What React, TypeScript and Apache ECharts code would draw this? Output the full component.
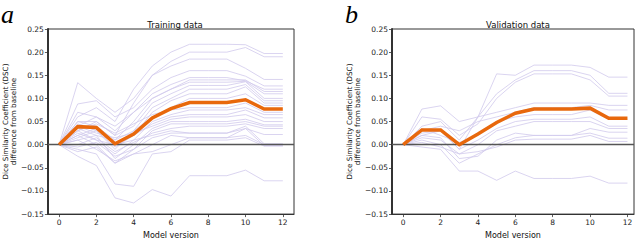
import React, { useEffect, useRef } from "react";
import * as echarts from "echarts";

const versions = [0, 1, 2, 3, 4, 5, 6, 7, 8, 9, 10, 11, 12];
const xTicks = [0, 2, 4, 6, 8, 10, 12];
const yTicks = [-0.15, -0.1, -0.05, 0, 0.05, 0.1, 0.15, 0.2, 0.25];

const trainingMean = [0, 0.039, 0.037, 0.002, 0.023, 0.058, 0.078, 0.091, 0.091, 0.091, 0.097, 0.077, 0.077];
const trainingRuns = [
  [0, 0.06, 0.08, 0.05, 0.12, 0.17, 0.2, 0.217, 0.217, 0.217, 0.216, 0.197, 0.197],
  [0, 0.05, 0.05, 0.02, 0.09, 0.15, 0.18, 0.2, 0.2, 0.2, 0.21, 0.19, 0.19],
  [0, 0.134, 0.1, 0.07, 0.1, 0.15, 0.17, 0.185, 0.185, 0.185, 0.165, 0.141, 0.141],
  [0, 0.088, 0.095, 0.06, 0.08, 0.12, 0.145, 0.16, 0.16, 0.16, 0.148, 0.127, 0.127],
  [0, 0.07, 0.06, 0.03, 0.07, 0.11, 0.13, 0.145, 0.145, 0.145, 0.138, 0.12, 0.12],
  [0, 0.05, 0.04, 0.01, 0.05, 0.1, 0.12, 0.14, 0.14, 0.14, 0.14, 0.115, 0.115],
  [0, 0.04, 0.06, 0.04, 0.07, 0.1, 0.12, 0.135, 0.135, 0.135, 0.137, 0.11, 0.11],
  [0, 0.03, 0.05, 0.02, 0.04, 0.09, 0.11, 0.128, 0.128, 0.128, 0.136, 0.1, 0.1],
  [0, 0.045, 0.03, -0.01, 0.03, 0.08, 0.1, 0.12, 0.12, 0.12, 0.13, 0.095, 0.095],
  [0, 0.02, 0.035, 0.0, 0.02, 0.07, 0.095, 0.11, 0.11, 0.11, 0.125, 0.09, 0.09],
  [0, 0.035, 0.02, 0.01, 0.03, 0.06, 0.08, 0.1, 0.1, 0.1, 0.11, 0.085, 0.085],
  [0, 0.03, 0.045, 0.025, 0.045, 0.065, 0.075, 0.08, 0.08, 0.08, 0.09, 0.07, 0.07],
  [0, 0.025, 0.01, -0.02, 0.01, 0.05, 0.065, 0.075, 0.075, 0.075, 0.08, 0.065, 0.065],
  [0, 0.015, 0.03, -0.005, 0.02, 0.045, 0.06, 0.065, 0.065, 0.065, 0.075, 0.058, 0.058],
  [0, 0.04, 0.025, 0.015, 0.025, 0.04, 0.055, 0.06, 0.06, 0.06, 0.065, 0.05, 0.05],
  [0, 0.01, 0.02, -0.03, 0.0, 0.035, 0.05, 0.05, 0.05, 0.05, 0.055, 0.043, 0.043],
  [0, 0.02, 0.0, -0.04, -0.01, 0.03, 0.045, 0.045, 0.045, 0.045, 0.05, 0.04, 0.04],
  [0, 0.0, 0.015, -0.015, 0.005, 0.025, 0.035, 0.04, 0.04, 0.04, 0.045, 0.035, 0.035],
  [0, 0.03, 0.01, 0.0, 0.01, 0.02, 0.03, 0.025, 0.025, 0.025, 0.035, 0.022, 0.022],
  [0, -0.005, 0.005, -0.025, -0.01, 0.015, 0.025, 0.025, 0.025, 0.025, 0.04, 0.002, 0.002],
  [0, 0.01, -0.01, -0.035, -0.02, 0.0, 0.02, 0.015, 0.015, 0.015, 0.035, -0.002, -0.002],
  [0, -0.015, -0.005, -0.04, -0.02, -0.015, 0.0, 0.015, 0.015, 0.015, 0.02, 0.0, 0.0],
  [0, -0.01, -0.02, -0.085, -0.09, -0.02, -0.015, 0.01, 0.01, 0.01, 0.015, -0.003, -0.003],
  [0, -0.025, -0.045, -0.115, -0.126, -0.097, -0.111, -0.067, -0.067, -0.067, -0.055, -0.078, -0.078],
];

const validationMean = [0, 0.032, 0.032, 0.0, 0.023, 0.048, 0.068, 0.077, 0.077, 0.077, 0.079, 0.057, 0.057];
const validationRuns = [
  [0, 0.02, 0.03, -0.01, 0.06, 0.153, 0.15, 0.172, 0.172, 0.172, 0.167, 0.146, 0.146],
  [0, 0.077, 0.084, 0.05, 0.06, 0.11, 0.14, 0.16, 0.16, 0.16, 0.15, 0.111, 0.111],
  [0, 0.06, 0.055, 0.02, 0.045, 0.1, 0.135, 0.153, 0.153, 0.153, 0.14, 0.105, 0.105],
  [0, 0.04, 0.05, 0.01, 0.06, 0.07, 0.08, 0.09, 0.09, 0.09, 0.09, 0.085, 0.085],
  [0, 0.03, 0.04, 0.03, 0.05, 0.06, 0.07, 0.08, 0.08, 0.08, 0.085, 0.075, 0.075],
  [0, 0.035, 0.02, 0.005, 0.02, 0.05, 0.06, 0.065, 0.065, 0.065, 0.075, 0.055, 0.055],
  [0, 0.025, 0.03, -0.01, 0.01, 0.035, 0.05, 0.055, 0.055, 0.055, 0.06, 0.04, 0.04],
  [0, 0.015, 0.01, -0.02, 0.0, 0.03, 0.04, 0.05, 0.05, 0.05, 0.05, 0.035, 0.035],
  [0, 0.02, 0.015, -0.03, -0.025, 0.01, 0.025, 0.02, 0.02, 0.02, 0.035, 0.027, 0.027],
  [0, 0.01, 0.0, -0.04, -0.02, 0.0, 0.015, 0.02, 0.02, 0.02, 0.025, 0.014, 0.014],
  [0, 0.005, -0.005, -0.02, -0.015, -0.005, 0.01, 0.012, 0.012, 0.012, 0.02, 0.007, 0.007],
  [0, -0.005, -0.01, -0.057, -0.057, -0.077, -0.057, -0.073, -0.073, -0.073, -0.068, -0.083, -0.083],
];

const panelTitles = ["Training data", "Validation data"];
const panelLetters = ["a", "b"];
const yName = "Dice Similarity Coefficient (DSC)\ndifference from baseline";
const xName = "Model version";

const FONT = "DejaVu Sans";
const RUN_COLOR = "#d0c9ec";
const MEAN_COLOR = "#e8680c";

function fmtY(v: number) {
  const r = Math.round(v * 100) / 100;
  const s = Math.abs(r).toFixed(2);
  return r < 0 ? "\u2212" + s : s;
}

export default function App() {
  const ref = useRef<HTMLDivElement>(null);
  useEffect(() => {
    if (!ref.current) return;
    const chart = echarts.init(ref.current, null, { renderer: "svg" });
    const grids = [
      { left: 46, top: 29, width: 248, height: 189 },
      { left: 392, top: 29, width: 242, height: 189 },
    ];
    const xMax = [12.6, 12.35];
    const xAxis = grids.map((_, i) => ({
      type: "value",
      gridIndex: i,
      min: -0.6,
      max: xMax[i],
      name: xName,
      nameLocation: "middle",
      nameGap: 15,
      nameTextStyle: { fontFamily: FONT, fontSize: 8, color: "#111" },
      axisLine: { show: true, onZero: false, lineStyle: { color: "#333", width: 1 } },
      axisTick: { show: true, length: 3, customValues: xTicks, lineStyle: { color: "#333", width: 0.8 } },
      axisLabel: { customValues: xTicks, fontFamily: FONT, fontSize: 7.5, color: "#222", margin: 4 },
      splitLine: { show: false },
    }));
    const yAxis = grids.map((_, i) => ({
      type: "value",
      gridIndex: i,
      min: -0.15,
      max: 0.25,
      name: yName,
      nameLocation: "middle",
      nameRotate: 90,
      nameGap: 29,
      nameTextStyle: { fontFamily: FONT, fontSize: 7.2, color: "#111", lineHeight: 8 },
      axisLine: { show: true, onZero: false, lineStyle: { color: "#333", width: 2 } },
      axisTick: { show: true, length: 3, customValues: yTicks, lineStyle: { color: "#333", width: 0.8 } },
      axisLabel: { customValues: yTicks, formatter: fmtY, fontFamily: FONT, fontSize: 7.5, color: "#222", margin: 4 },
      splitLine: { show: false },
    }));
    const series: any[] = [];
    const panels = [
      { runs: trainingRuns, mean: trainingMean },
      { runs: validationRuns, mean: validationMean },
    ];
    panels.forEach((p, i) => {
      p.runs.forEach((run, k) => {
        series.push({
          type: "line",
          xAxisIndex: i,
          yAxisIndex: i,
          data: versions.map((v, j) => [v, run[j]]),
          symbol: "none",
          silent: true,
          z: 2,
          lineStyle: { color: RUN_COLOR, width: 0.8 },
          ...(k === p.runs.length - 1
            ? {
                markLine: {
                  silent: true,
                  symbol: "none",
                  label: { show: false },
                  lineStyle: { color: "#555", width: 1.3, type: "solid" },
                  data: [{ yAxis: 0 }],
                },
              }
            : {}),
        });
      });
      series.push({
        type: "line",
        xAxisIndex: i,
        yAxisIndex: i,
        data: versions.map((v, j) => [v, p.mean[j]]),
        symbol: "none",
        silent: true,
        z: 5,
        lineStyle: { color: MEAN_COLOR, width: 3.5, join: "miter" },
      });
    });
    const letterStyle = {
      fontFamily: "Liberation Serif",
      fontStyle: "italic",
      fontSize: 26,
      fill: "#000",
      verticalAlign: "top",
    };
    chart.setOption({
      animation: false,
      backgroundColor: "#ffffff",
      grid: grids.map((g) => ({ ...g, show: true, borderColor: "#333", borderWidth: 1, backgroundColor: "transparent" })),
      title: grids.map((g, i) => ({
        text: panelTitles[i],
        left: g.left + g.width / 2,
        top: 15,
        textAlign: "center",
        textStyle: { fontFamily: FONT, fontSize: 8.5, fontWeight: "normal", color: "#111" },
      })),
      xAxis,
      yAxis,
      series,
      graphic: [
        { type: "text", x: 1, y: 1, style: { ...letterStyle, text: panelLetters[0] } },
        { type: "text", x: 345, y: 1, style: { ...letterStyle, text: panelLetters[1] } },
      ],
    });
    return () => chart.dispose();
  }, []);
  return <div ref={ref} style={{ position: "fixed", left: 0, top: 0, width: 640, height: 244 }} />;
}
